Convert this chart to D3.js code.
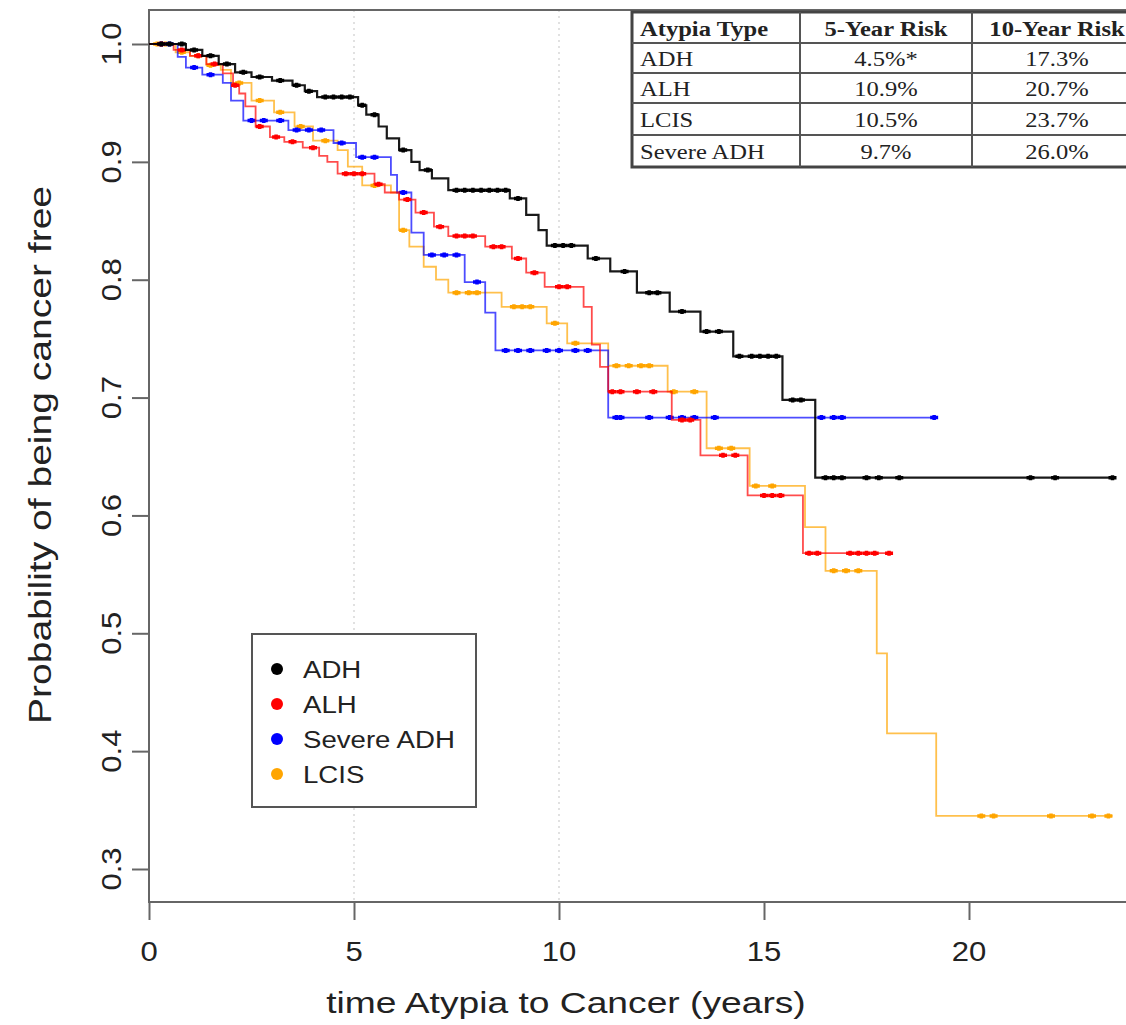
<!DOCTYPE html>
<html><head><meta charset="utf-8">
<script src="https://cdn.jsdelivr.net/npm/d3@7/dist/d3.min.js"></script>
<style>html,body{margin:0;padding:0;background:#fff;overflow:hidden}</style>
</head><body>
<svg id="chart" width="1126" height="1025"></svg>
<script>
// ---------- DATA ----------
const categories = ["ADH", "ALH", "Severe ADH", "LCIS"];

// Kaplan-Meier steps: [time (years), survival after the step]
const adhSteps = [[0,1],[0.9,0.995],[1.3,0.99],[1.7,0.983],[2.1,0.976],[2.5,0.972],[3.0,0.969],[3.5,0.965],[3.8,0.96],[4.1,0.955],[5.1,0.948],[5.3,0.94],[5.6,0.93],[5.8,0.92],[6.1,0.91],[6.4,0.9],[6.6,0.893],[6.9,0.886],[7.3,0.876],[8.8,0.869],[9.2,0.855],[9.5,0.842],[9.7,0.829],[10.7,0.818],[11.25,0.807],[11.9,0.789],[12.7,0.773],[13.45,0.756],[14.25,0.735],[15.45,0.698],[16.25,0.632]];
const alhSteps = [[0,1],[0.6,0.995],[1.0,0.99],[1.4,0.983],[1.8,0.975],[2.05,0.965],[2.2,0.958],[2.35,0.947],[2.6,0.93],[2.95,0.921],[3.3,0.917],[3.75,0.912],[4.15,0.905],[4.35,0.9],[4.6,0.89],[5.5,0.881],[5.75,0.874],[6.1,0.868],[6.5,0.857],[6.95,0.845],[7.3,0.837],[8.2,0.828],[8.85,0.818],[9.2,0.806],[9.65,0.794],[10.6,0.777],[10.8,0.745],[11.0,0.726],[11.2,0.705],[12.75,0.681],[13.45,0.651],[14.6,0.617],[15.95,0.568]];
const sevSteps = [[0,1],[0.7,0.989],[0.9,0.98],[1.3,0.974],[1.8,0.967],[2.0,0.952],[2.3,0.935],[3.4,0.927],[4.5,0.916],[5.05,0.904],[5.9,0.889],[6.05,0.874],[6.4,0.84],[6.7,0.821],[7.7,0.798],[8.2,0.772],[8.45,0.74],[11.2,0.683]];
const lcisSteps = [[0,1],[0.65,0.993],[1.0,0.99],[1.4,0.982],[1.75,0.978],[2.0,0.967],[2.5,0.952],[3.05,0.942],[3.55,0.93],[4.0,0.918],[4.6,0.91],[4.85,0.896],[5.2,0.88],[5.9,0.874],[6.1,0.842],[6.35,0.828],[6.7,0.811],[7.0,0.8],[7.3,0.789],[8.6,0.777],[9.7,0.763],[10.2,0.746],[11.2,0.727],[12.65,0.705],[13.6,0.657],[14.65,0.625],[16.0,0.59],[16.5,0.553],[17.75,0.483],[18.0,0.415],[19.2,0.345]];

// last follow-up time of each curve
const endTimes = [23.5, 18.05, 19.15, 23.5];

// censoring times (marks)
const adhCensor = [0.3,0.5,0.8,1.1,1.5,1.9,2.3,2.7,3.2,3.6,3.9,4.3,4.5,4.7,4.9,5.2,5.5,6.2,6.8,7.5,7.7,7.9,8.1,8.3,8.5,8.7,9.0,9.9,10.1,10.3,10.9,11.6,12.2,12.4,13.0,13.6,13.9,14.4,14.7,14.9,15.1,15.3,15.7,15.9,16.5,16.7,16.9,17.5,17.8,18.3,21.5,22.1,23.5];
const alhCensor = [0.3,0.8,1.2,1.6,2.1,2.7,3.1,3.5,4.0,4.8,5.0,5.2,5.6,6.3,6.7,7.1,7.5,7.7,7.9,8.4,8.6,9.0,9.4,10.0,10.2,11.3,11.5,11.9,12.3,13.0,13.2,14.0,14.3,15.0,15.2,15.4,16.1,16.3,17.1,17.3,17.5,17.7,18.05];
const sevCensor = [0.3,0.5,1.1,1.5,2.5,2.8,3.2,3.6,3.9,4.2,4.7,5.2,5.5,6.2,6.9,7.2,7.5,8.0,8.7,9.0,9.3,9.7,10.0,10.4,10.7,11.4,11.5,12.2,12.7,13.0,13.3,13.8,16.4,16.7,16.9,19.15];
const lcisCensor = [0.2,0.4,0.8,1.2,1.5,2.2,2.7,3.2,3.7,4.3,5.5,6.2,7.5,7.8,8.0,8.9,9.1,9.3,9.9,10.4,11.4,11.7,12.0,12.2,12.8,13.3,13.9,14.2,14.8,15.2,16.7,17.0,17.3,20.3,20.6,22.0,23.0,23.4];

const xTicks = [0, 5, 10, 15, 20];
const yTicks = [0.3, 0.4, 0.5, 0.6, 0.7, 0.8, 0.9, 1.0];
const gridYears = [5, 10];

// inset table
const tableHeader = ["Atypia Type", "5-Year Risk", "10-Year Risk"];
const tableTypes = ["ADH", "ALH", "LCIS", "Severe ADH"];
const risk5 = ["4.5%*", "10.9%", "10.5%", "9.7%"];
const risk10 = ["17.3%", "20.7%", "23.7%", "26.0%"];

// ---------- STYLE / LAYOUT ----------
const colors = ["#000000", "#ff0000", "#0000ff", "#ffa500"];
const svg = d3.select("#chart");
const x = d3.scaleLinear().domain([0, 20]).range([149, 969]);
const y = d3.scaleLinear().domain([0.3, 1.0]).range([869, 44]);
const box = {l: 149, t: 10, r: 1160, b: 902};
const SX = 1.15; // horizontal glyph stretch of the reference

function stext(parent, tx, ty, str, size, opts = {}) {
  const rot = opts.rotate || 0, sx = opts.sx || SX;
  return parent.append("text")
    .attr("transform", `translate(${tx},${ty}) rotate(${rot}) scale(${sx},1)`)
    .attr("text-anchor", opts.anchor || "middle")
    .attr("font-family", opts.family || "'Liberation Sans', Arial, sans-serif")
    .attr("font-weight", opts.weight || "normal")
    .attr("font-size", size)
    .attr("fill", opts.fill || "#222")
    .text(str);
}

// dotted grid lines
svg.append("g").selectAll("line").data(gridYears).join("line")
  .attr("x1", d => x(d)).attr("x2", d => x(d))
  .attr("y1", box.t).attr("y2", box.b)
  .attr("stroke", "#d8d8d8").attr("stroke-width", 1.5).attr("stroke-dasharray", "2,4");

// frame
svg.append("rect").attr("x", box.l).attr("y", box.t)
  .attr("width", box.r - box.l).attr("height", box.b - box.t)
  .attr("fill", "none").attr("stroke", "#666").attr("stroke-width", 2);

// axes
const gx = svg.append("g").attr("transform", `translate(0,${box.b})`)
  .call(d3.axisBottom(x).tickValues(xTicks).tickSize(18).tickFormat(""));
const gy = svg.append("g").attr("transform", `translate(${box.l},0)`)
  .call(d3.axisLeft(y).tickValues(yTicks).tickSize(17).tickFormat(""));
[gx, gy].forEach(g => {
  g.select(".domain").remove();
  g.selectAll("line").attr("stroke", "#666").attr("stroke-width", 2);
});
xTicks.forEach(d => stext(svg, x(d), 961, String(d), 27));
yTicks.forEach(d => stext(svg, 121, y(d), d3.format(".1f")(d), 27, {rotate: -90}));

// axis titles
stext(svg, 566, 1013, "time Atypia to Cancer (years)", 30, {sx: 1.24});
stext(svg, 51, 455, "Probability of being cancer free", 32, {rotate: -90, sx: 1.22});

// curves
const allSteps = [adhSteps, alhSteps, sevSteps, lcisSteps];
const allCensor = [adhCensor, alhCensor, sevCensor, lcisCensor];
const line = d3.line().x(d => x(d[0])).y(d => y(d[1])).curve(d3.curveStepAfter);
function survAt(steps, t) {
  let s = steps[0][1];
  for (const st of steps) { if (st[0] <= t) s = st[1]; else break; }
  return s;
}
const drawOrder = [3, 2, 1, 0];
drawOrder.forEach(i => {
  const steps = allSteps[i];
  const pts = steps.concat([[endTimes[i], steps[steps.length - 1][1]]]);
  const g = svg.append("g");
  g.append("path").datum(pts).attr("d", line)
    .attr("fill", "none").attr("stroke", colors[i])
    .attr("stroke-width", i === 0 ? 2.2 : 1.8).attr("stroke-opacity", i === 0 ? 0.9 : 0.7);
  g.selectAll("path.c").data(allCensor[i]).join("path").attr("class", "c")
    .attr("transform", t => `translate(${x(t)},${y(survAt(steps, t))})`)
    .attr("d", "M-4,0H4M0,-2.5V2.5")
    .attr("stroke", colors[i]).attr("stroke-width", 3.5).attr("fill", "none");
});

// legend
const lg = svg.append("g");
lg.append("rect").attr("x", 252).attr("y", 634).attr("width", 224).attr("height", 173)
  .attr("fill", "#fff").attr("stroke", "#555").attr("stroke-width", 2);
categories.forEach((c, i) => {
  const cy = 669 + i * 35;
  lg.append("circle").attr("cx", 277).attr("cy", cy).attr("r", 6).attr("fill", colors[i]);
  stext(lg, 303, cy + 9, c, 24, {anchor: "start", sx: 1.15});
});

// inset table
const tg = svg.append("g");
const colX = [632, 800, 972, 1142];
const rowY = [12, 43, 73, 103, 135, 167];
tg.append("rect").attr("x", colX[0]).attr("y", rowY[0])
  .attr("width", colX[3] - colX[0]).attr("height", rowY[5] - rowY[0])
  .attr("fill", "#fff").attr("stroke", "#444").attr("stroke-width", 3);
rowY.slice(1, 5).forEach(ry => tg.append("line").attr("x1", colX[0]).attr("x2", colX[3])
  .attr("y1", ry).attr("y2", ry).attr("stroke", "#555").attr("stroke-width", 2));
colX.slice(1, 3).forEach(cx => tg.append("line").attr("x1", cx).attr("x2", cx)
  .attr("y1", rowY[0]).attr("y2", rowY[5]).attr("stroke", "#555").attr("stroke-width", 2));
const serif = "'Liberation Serif', 'Times New Roman', serif";
const mid = (a, b) => (a + b) / 2;
stext(tg, 640, mid(rowY[0], rowY[1]) + 8, tableHeader[0], 21, {anchor: "start", family: serif, weight: "bold", sx: 1.17});
stext(tg, mid(colX[1], colX[2]), mid(rowY[0], rowY[1]) + 8, tableHeader[1], 21, {family: serif, weight: "bold", sx: 1.17});
stext(tg, mid(colX[2], colX[3]), mid(rowY[0], rowY[1]) + 8, tableHeader[2], 21, {family: serif, weight: "bold", sx: 1.17});
tableTypes.forEach((t, i) => {
  const by = mid(rowY[i + 1], rowY[i + 2]) + 8;
  stext(tg, 640, by, t, 21, {anchor: "start", family: serif, sx: 1.17});
  stext(tg, mid(colX[1], colX[2]), by, risk5[i], 21, {family: serif, sx: 1.17});
  stext(tg, mid(colX[2], colX[3]), by, risk10[i], 21, {family: serif, sx: 1.17});
});
</script>
</body></html>
